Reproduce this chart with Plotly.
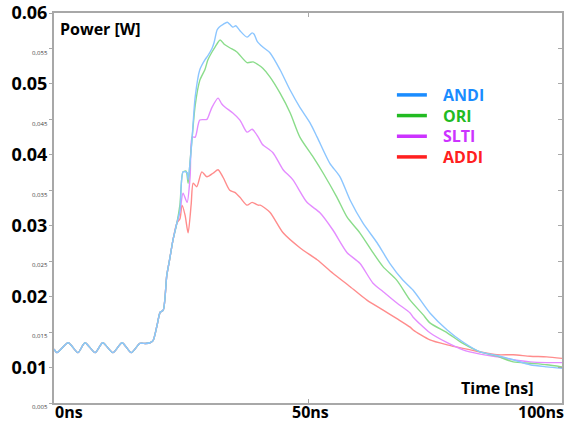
import plotly.graph_objects as go

# ---------------- data ----------------
base_t = [0, 0.6, 2.8, 4.7, 6.1, 8.1, 9.6, 11.6, 13.4, 15.2, 16.9, 18.0, 18.9,
          19.5, 20.3, 20.9, 21.5, 22.2, 22.8, 23.4, 24.2]
base_v = [0.0126, 0.0121, 0.0135, 0.0121, 0.0135, 0.0121, 0.0135, 0.0121, 0.0135,
          0.0121, 0.0134, 0.0134, 0.0135, 0.0138, 0.0160, 0.0178, 0.0181, 0.0230,
          0.0254, 0.0279, 0.0304]

andi_t = [24.8, 25.4, 26.2, 26.4, 26.8, 27.2, 27.8, 28.7, 29.7, 30.3, 31.1, 31.5,
          32.1, 32.5, 33.3, 34.1, 34.6, 35.2, 35.8, 36.6, 38.0, 39.0, 39.4, 40.0,
          41.1, 42.5, 44.5, 46.5, 48.4, 50.4, 51.8, 54.3, 56.3, 58.3, 60.8, 63.6,
          66.1, 68.7, 70.7, 74.0, 77.4, 80.5, 83.9, 87.2, 90.4, 93.7, 97.0, 100]
andi_v = [0.0322, 0.0376, 0.0375, 0.0365, 0.0390, 0.0425, 0.0482, 0.0520, 0.0534,
          0.0540, 0.0550, 0.0558, 0.0576, 0.0580, 0.0584, 0.0587, 0.0584, 0.0580,
          0.0582, 0.0575, 0.0566, 0.0572, 0.0570, 0.0560, 0.0552, 0.0544, 0.0520,
          0.0491, 0.0467, 0.0445, 0.0425, 0.0388, 0.0369, 0.0336, 0.0304, 0.0276,
          0.0247, 0.0223, 0.0209, 0.0177, 0.0153, 0.0136, 0.0122, 0.0117, 0.0111,
          0.0104, 0.0101, 0.0099]

ori_t = [24.8, 25.4, 26.0, 26.4, 26.8, 27.2, 27.8, 28.7, 29.7, 30.3, 31.1, 31.7,
         32.7, 33.5, 34.6, 36.0, 38.0, 39.2, 40.2, 41.1, 42.5, 44.5, 46.5, 48.4,
         51.0, 53.0, 55.7, 57.7, 60.2, 62.8, 64.8, 67.5, 70.1, 72.6, 74.0, 77.4,
         80.5, 83.9, 87.2, 90.4, 93.7, 97.0, 100]
ori_v = [0.0330, 0.0376, 0.0377, 0.0360, 0.0392, 0.0425, 0.0470, 0.0505, 0.0520,
         0.0534, 0.0545, 0.0552, 0.0562, 0.0556, 0.0551, 0.0545, 0.0530, 0.0531,
         0.0527, 0.0522, 0.0510, 0.0487, 0.0459, 0.0425, 0.0397, 0.0374, 0.0340,
         0.0312, 0.0290, 0.0262, 0.0242, 0.0223, 0.0195, 0.0175, 0.0163, 0.0149,
         0.0134, 0.0122, 0.0116, 0.0108, 0.0106, 0.0104, 0.0101]

slti_t = [24.8, 25.4, 26.2, 26.8, 27.2, 27.8, 28.7, 30.1, 30.7, 31.1, 32.3, 33.0,
          33.7, 35.2, 36.6, 38.0, 39.0, 40.2, 41.0, 43.1, 45.1, 47.0, 49.8, 52.4,
          54.9, 57.7, 60.2, 62.8, 64.8, 67.5, 70.1, 70.7, 74.0, 77.4, 80.5, 83.9,
          87.2, 90.4, 93.7, 97.0, 100]
slti_v = [0.0320, 0.0346, 0.0333, 0.0370, 0.0425, 0.0425, 0.0449, 0.0450, 0.0460,
          0.0467, 0.0480, 0.0472, 0.0467, 0.0459, 0.0449, 0.0432, 0.0436, 0.0425,
          0.0415, 0.0403, 0.0379, 0.0365, 0.0333, 0.0318, 0.0294, 0.0262, 0.0247,
          0.0219, 0.0207, 0.0191, 0.0177, 0.0171, 0.0149, 0.0135, 0.0125, 0.0119,
          0.0115, 0.0111, 0.0108, 0.0107, 0.0107]

addi_t = [24.8, 25.2, 25.8, 26.4, 27.0, 27.4, 28.1, 29.1, 30.1, 31.3, 32.3, 33.3,
          34.6, 35.6, 36.6, 38.0, 39.0, 40.2, 40.6, 42.5, 45.1, 48.4, 51.8, 54.9,
          58.3, 61.6, 64.8, 67.5, 70.1, 70.7, 74.0, 77.4, 80.5, 83.9, 87.2, 90.4,
          93.7, 97.0, 100]
addi_v = [0.0310, 0.0329, 0.0315, 0.0290, 0.0330, 0.0360, 0.0355, 0.0376, 0.0369,
          0.0374, 0.0379, 0.0368, 0.0350, 0.0347, 0.0340, 0.0329, 0.0333, 0.0329,
          0.0329, 0.0319, 0.0290, 0.0269, 0.0252, 0.0233, 0.0214, 0.0195, 0.0181,
          0.0169, 0.0157, 0.0153, 0.0139, 0.0132, 0.0127, 0.0122, 0.0118, 0.0118,
          0.0116, 0.0115, 0.0113]

series_names = ["ANDI", "ORI", "SLTI", "ADDI"]
series_t = [andi_t, ori_t, slti_t, addi_t]
series_v = [andi_v, ori_v, slti_v, addi_v]
line_colors = ["#8cc6ff", "#8adc8a", "#e48cff", "#ff8c8c"]
legend_colors = ["#1a8cff", "#22bb22", "#cc33ff", "#ff2020"]

y_tickvals = [0.005, 0.01, 0.015, 0.02, 0.025, 0.03, 0.035, 0.04, 0.045, 0.05, 0.055, 0.06]
y_ticktext = ["0,005", "0.01", "0,015", "0.02", "0,025", "0.03", "0,035", "0.04",
              "0,045", "0.05", "0,055", "0.06"]
x_tickvals = [0, 50, 100]
x_ticktext = ["0ns", "50ns", "100ns"]

# ---------------- figure ----------------
fig = go.Figure()
for name, t, v, c in reversed(list(zip(series_names, series_t, series_v, line_colors))):
    fig.add_trace(go.Scatter(x=base_t + t, y=base_v + v, mode="lines", name=name,
                             line=dict(color=c, width=1.4, shape="spline", smoothing=0.7),
                             showlegend=False, hoverinfo="skip"))
fig.add_trace(go.Scatter(x=[None], y=[None], xaxis="x2", yaxis="y2",
                         showlegend=False, hoverinfo="skip"))

def fmt_tick(s):
    if "," in s:
        return "<span style='font-size:6px;color:#444'>" + s + "</span>"
    return "<b>" + s + "</b>"

frame = "#a8a8a8"
fig.update_layout(
    width=571, height=423,
    margin=dict(l=54, r=9, t=13, b=20, autoexpand=False),
    paper_bgcolor="white", plot_bgcolor="white",
    font=dict(family="Open Sans, sans-serif", color="black"),
    showlegend=False,
    xaxis=dict(range=[0, 100], showgrid=False, zeroline=False, automargin=False,
               showline=True, linecolor=frame, linewidth=2,
               tickvals=x_tickvals, ticks="inside", ticklen=4, tickcolor=frame,
               showticklabels=False),
    yaxis=dict(range=[0.005, 0.06], showgrid=False, zeroline=False, automargin=False,
               showline=True, linecolor=frame, linewidth=2,
               tickvals=y_tickvals, ticktext=[fmt_tick(s) for s in y_ticktext],
               ticks="outside", ticklen=3, tickcolor=frame,
               tickfont=dict(size=18, color="black"), ticklabelstandoff=-2),
    xaxis2=dict(range=[0, 100], overlaying="x", side="top", showgrid=False,
                zeroline=False, showline=True, linecolor=frame, linewidth=2,
                automargin=False,
                tickvals=x_tickvals, ticks="inside", ticklen=4, tickcolor=frame,
                showticklabels=False),
    yaxis2=dict(range=[0.005, 0.06], overlaying="y", side="right", showgrid=False,
                zeroline=False, showline=True, linecolor=frame, linewidth=2,
                automargin=False,
                tickvals=y_tickvals, ticks="inside", ticklen=4, tickcolor=frame,
                showticklabels=False),
)

# legend drawn as key lines + coloured labels (paper coordinates)
legend_top = 0.79
legend_step = 0.053
for i, (name, c) in enumerate(zip(series_names, legend_colors)):
    yy = legend_top - i * legend_step
    fig.add_shape(type="line", xref="paper", yref="paper",
                  x0=0.675, x1=0.734, y0=yy, y1=yy,
                  line=dict(color=c, width=3.5))
    fig.add_annotation(x=0.762, y=yy, xref="paper", yref="paper",
                       text="<b>" + name + "</b>", showarrow=False,
                       xanchor="left", yanchor="middle",
                       font=dict(size=16, color=c))

anchors = ["left", "center", "right"]
shifts = [-1, 2, 4]
for xv, txt, anc, sh in zip(x_tickvals, x_ticktext, anchors, shifts):
    fig.add_annotation(x=xv, y=0, xref="x", yref="paper",
                       text="<b>" + txt + "</b>", showarrow=False,
                       xanchor=anc, yanchor="top", yshift=4, xshift=sh,
                       font=dict(size=16, color="black"))

fig.add_annotation(x=0, y=1, xref="paper", yref="paper", text="<b>Power [W]</b>",
                   showarrow=False, xanchor="left", yanchor="top", xshift=4, yshift=-3,
                   font=dict(size=16, color="black"))
fig.add_annotation(x=1, y=0, xref="paper", yref="paper", text="<b>Time [ns]</b>",
                   showarrow=False, xanchor="right", yanchor="bottom", xshift=-26, yshift=2,
                   font=dict(size=16, color="black"))

fig.write_html("out.html", post_script="document.body.style.margin='0';",
               config={"displayModeBar": False})
